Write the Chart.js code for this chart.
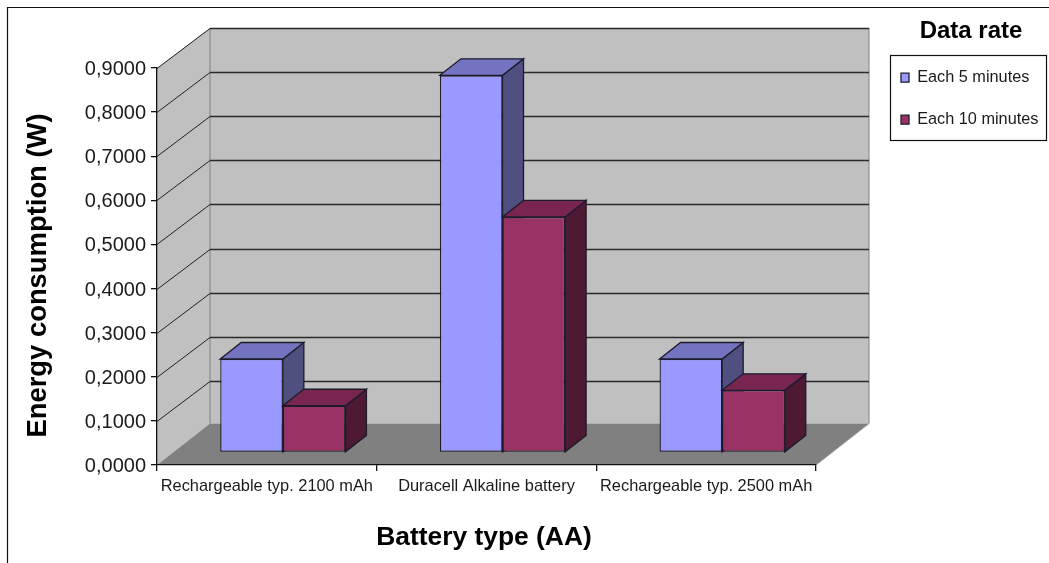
<!DOCTYPE html>
<html>
<head>
<meta charset="utf-8">
<title>Energy consumption by battery type</title>
<script src="https://cdn.jsdelivr.net/npm/chart.js@4"></script>
<style>
  html, body { margin: 0; padding: 0; background: #fff; }
  canvas { display: block; }
</style>
</head>
<body>
<canvas id="batteryChart" width="1049" height="563"></canvas>
<script>
// ===== Data =====
const categories = ['Rechargeable typ. 2100 mAh', 'Duracell Alkaline battery', 'Rechargeable typ. 2500 mAh'];
const each5Minutes = [0.212, 0.855, 0.212];
const each10Minutes = [0.106, 0.534, 0.141];
const yTickLabels = ['0,0000', '0,1000', '0,2000', '0,3000', '0,4000', '0,5000', '0,6000', '0,7000', '0,8000', '0,9000'];

// ===== Fake 3D look =====
const WALL_DX = 53, WALL_DY = -40, FLOOR_DY = -41.5;
const BAR_SHIFT_X = 16, BAR_SHIFT_Y = -12.5;
const BAR_DEPTH_X = 21, BAR_DEPTH_Y = -16.5;
const OUTLINE = '#1c1c2c';

const faceColors = [
  { top: '#7373bf', side: '#4f4f80' },
  { top: '#782650', side: '#4d1933' }
];

function polygon(ctx, points, fill, stroke, lineWidth) {
  ctx.beginPath();
  points.forEach((p, i) => (i ? ctx.lineTo(p[0], p[1]) : ctx.moveTo(p[0], p[1])));
  ctx.closePath();
  if (fill) { ctx.fillStyle = fill; ctx.fill(); }
  if (stroke) { ctx.strokeStyle = stroke; ctx.lineWidth = lineWidth; ctx.stroke(); }
}

function line(ctx, x1, y1, x2, y2, color, width) {
  ctx.beginPath();
  ctx.moveTo(x1, y1);
  ctx.lineTo(x2, y2);
  ctx.strokeStyle = color;
  ctx.lineWidth = width;
  ctx.stroke();
}

// nudge a scale's title or labels, the original is not centred on the axis
function shiftDraw(scale, method, dx, dy) {
  const original = scale[method];
  if (original.shifted) return;
  scale[method] = function (...args) {
    this.ctx.save();
    this.ctx.translate(dx, dy);
    original.apply(this, args);
    this.ctx.restore();
  };
  scale[method].shifted = true;
}

const chart3d = {
  id: 'chart3d',

  afterLayout(chart) {
    // put the legend block where the original has it
    const legend = chart.legend;
    legend.left = 875.3;
    legend.width = 191.4;
    legend.right = 1066.7;
    legend.top = 19;
    legend.height = 300;
    legend.bottom = 319;

    shiftDraw(chart.scales.y, 'drawTitle', 0, 9);
    shiftDraw(chart.scales.x, 'drawTitle', -2.5, 1);
    shiftDraw(chart.scales.y, 'drawLabels', 0, 1.5);
  },

  beforeDraw(chart) {
    const { ctx, chartArea: { left, right, top, bottom }, scales: { y } } = chart;
    ctx.save();
    ctx.fillStyle = '#fff';
    ctx.fillRect(0, 0, chart.width, chart.height);

    // outer frame, cut by the picture on the right and bottom
    line(ctx, 7.5, 7, 7.5, chart.height, '#111', 1.2);
    line(ctx, 7, 7.5, chart.width, 7.5, '#111', 1.2);

    // walls and floor
    polygon(ctx, [[left + WALL_DX, top + WALL_DY], [right + WALL_DX, top + WALL_DY], [right + WALL_DX, bottom + FLOOR_DY], [left + WALL_DX, bottom + FLOOR_DY]], '#c0c0c0');
    polygon(ctx, [[left, top], [left + WALL_DX, top + WALL_DY], [left + WALL_DX, bottom + FLOOR_DY], [left, bottom]], '#c0c0c0');
    polygon(ctx, [[left, bottom], [right, bottom], [right + WALL_DX, bottom + FLOOR_DY], [left + WALL_DX, bottom + FLOOR_DY]], '#808080');
    line(ctx, left + WALL_DX, top + WALL_DY, left + WALL_DX, bottom + FLOOR_DY, '#808080', 1);
    line(ctx, right + WALL_DX, top + WALL_DY, right + WALL_DX, bottom + FLOOR_DY, '#808080', 1);
    line(ctx, right, bottom, right + WALL_DX, bottom + FLOOR_DY, '#9a9a9a', 1);

    // gridlines run along the side wall, then across the back
    y.ticks.forEach(tick => {
      if (tick.value === 0) return;
      const py = Math.round(y.getPixelForValue(tick.value)) + 0.5;
      line(ctx, left, py, left + WALL_DX, py + WALL_DY, '#222', 1);
      line(ctx, left + WALL_DX, py + WALL_DY, right + WALL_DX, py + WALL_DY, '#2a2a2a', 1.3);
    });
    ctx.restore();
  },

  // Left-to-right drawing so each maroon bar sits over the blue side face.
  // Chart.js would paint the first dataset last, so take over the loop.
  beforeDatasetsDraw(chart) {
    const { ctx } = chart;
    ctx.save();
    ctx.translate(BAR_SHIFT_X, BAR_SHIFT_Y);
    chart.data.datasets.forEach((dataset, index) => {
      const meta = chart.getDatasetMeta(index);
      const colors = faceColors[index];
      meta.data.forEach(bar => {
        const l = bar.x - bar.width / 2, r = bar.x + bar.width / 2;
        polygon(ctx, [[r, bar.y], [r + BAR_DEPTH_X, bar.y + BAR_DEPTH_Y], [r + BAR_DEPTH_X, bar.base + BAR_DEPTH_Y], [r, bar.base]], colors.side, OUTLINE, 1.3);
        polygon(ctx, [[l, bar.y], [l + BAR_DEPTH_X, bar.y + BAR_DEPTH_Y], [r + BAR_DEPTH_X, bar.y + BAR_DEPTH_Y], [r, bar.y]], colors.top, OUTLINE, 1.3);
      });
      meta.controller.draw();
    });
    ctx.restore();
    return false;
  },

  afterDraw(chart) {
    const { ctx } = chart;
    ctx.save();
    ctx.strokeStyle = '#111';
    ctx.lineWidth = 1.2;
    ctx.strokeRect(890.5, 55.5, 156, 85);
    ctx.restore();
  }
};

// ===== Chart =====
const tickColor = '#1a1a1a';
const fontFamily = '"Liberation Sans", Arial, sans-serif';

new Chart(document.getElementById('batteryChart'), {
  type: 'bar',
  plugins: [chart3d],
  data: {
    labels: categories,
    datasets: [
      {
        label: 'Each 5 minutes',
        data: each5Minutes,
        backgroundColor: '#9999ff',
        borderColor: OUTLINE,
        borderWidth: 1.3,
        borderSkipped: false
      },
      {
        label: 'Each 10 minutes',
        data: each10Minutes,
        backgroundColor: '#993366',
        borderColor: OUTLINE,
        borderWidth: 1.3,
        borderSkipped: false
      }
    ]
  },
  options: {
    responsive: false,
    animation: false,
    events: [],
    layout: {
      autoPadding: false,
      padding: { left: 0, top: 68, right: 233, bottom: 0 }
    },
    datasets: { bar: { categoryPercentage: 0.57, barPercentage: 1 } },
    plugins: {
      tooltip: { enabled: false },
      legend: {
        position: 'chartArea',
        align: 'start',
        title: {
          display: true,
          text: 'Data rate',
          color: '#000',
          position: 'center',
          padding: { top: 0, bottom: 0.8 },
          font: { family: fontFamily, size: 24, weight: 'bold', lineHeight: 1 }
        },
        labels: {
          boxWidth: 8,
          boxHeight: 9,
          padding: 25.7,
          color: tickColor,
          font: { family: fontFamily, size: 16.3 }
        }
      }
    },
    scales: {
      x: {
        afterFit(scale) { scale.height = 98; },
        grid: { drawOnChartArea: false, tickLength: 6, tickColor: '#111', lineWidth: 1.3 },
        border: { color: '#111', width: 1.3 },
        ticks: {
          color: tickColor,
          padding: 6,
          autoSkip: false,
          maxRotation: 0,
          font: { family: fontFamily, size: 16.4 }
        },
        title: {
          display: true,
          text: 'Battery type (AA)',
          color: '#000',
          padding: { top: 0, bottom: 13 },
          font: { family: fontFamily, size: 26.4, weight: 'bold', lineHeight: 1 }
        }
      },
      y: {
        min: 0,
        max: 0.9,
        afterFit(scale) { scale.width = 157; },
        grid: { drawOnChartArea: false, tickLength: 6, tickColor: '#111', lineWidth: 1.3 },
        border: { color: '#111', width: 1.3 },
        ticks: {
          stepSize: 0.1,
          color: tickColor,
          padding: 5,
          font: { family: fontFamily, size: 20 },
          callback: (value, index) => yTickLabels[index]
        },
        title: {
          display: true,
          text: 'Energy consumption (W)',
          color: '#000',
          padding: { top: 25, bottom: 0 },
          font: { family: fontFamily, size: 27.4, weight: 'bold', lineHeight: 1 }
        }
      }
    }
  }
});
</script>
</body>
</html>
